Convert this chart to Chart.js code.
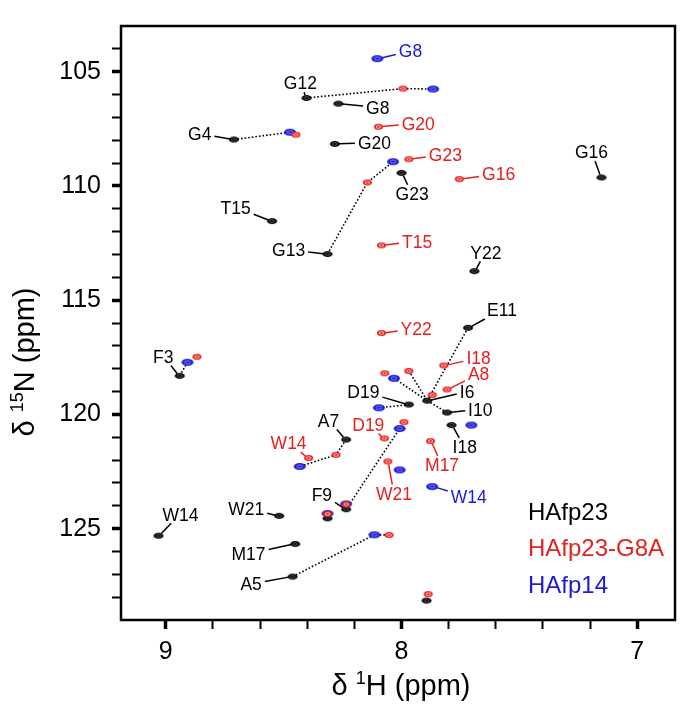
<!DOCTYPE html>
<html>
<head>
<meta charset="utf-8">
<script src="https://cdn.jsdelivr.net/npm/chart.js@4.4.1/dist/chart.umd.min.js"></script>
<style>
  html, body { margin: 0; padding: 0; background: #fff; }
  #wrap { width: 680px; height: 704px; }
</style>
</head>
<body>
<div id="wrap"><canvas id="hsqc"></canvas></div>
<script>
// Axis ticks (ppm)
const xTicks = [7.0, 7.2, 7.4, 7.6, 7.8, 8.0, 8.2, 8.4, 8.6, 8.8, 9.0];
const yTicks = [104, 105, 106, 107, 108, 109, 110, 111, 112, 113, 114, 115, 116,
                117, 118, 119, 120, 121, 122, 123, 124, 125, 126, 127, 128];

const seriesNames = ['HAfp23', 'HAfp23-G8A', 'HAfp14'];
const seriesColors = ['#000000', '#e3211f', '#1c1cd2'];

// HAfp23 peaks (1H, 15N) and label anchors
const blackNames = ['G12', 'G8', 'G4', 'G20', 'G23', 'G16', 'T15', 'G13', 'Y22', 'E11', 'F3',
                    'I6', 'D19', 'I10', 'I18', 'A7', 'F9', 'W21', 'W14', 'M17', 'A5', '', ''];
const blackH = [8.403, 8.268, 8.711, 8.283, 8.000, 7.152, 8.549, 8.314, 7.691, 7.718, 8.941,
                7.891, 7.969, 7.807, 7.788, 8.235, 8.235, 8.519, 9.031, 8.451, 8.462, 8.314, 7.894];
const blackN = [106.15, 106.40, 107.97, 108.16, 109.43, 109.63, 111.54, 112.98, 113.73, 116.21, 118.31,
                119.40, 119.57, 119.92, 120.47, 121.10, 124.15, 124.44, 125.31, 125.67, 127.10, 124.55, 128.15];
const blackLabelH = [8.429, 8.101, 8.856, 8.115, 7.955, 7.194, 8.704, 8.479, 7.642, 7.574, 9.011,
                     7.722, 8.162, 7.666, 7.732, 8.310, 8.338, 8.659, 8.938, 8.649, 8.638, null, null];
const blackLabelN = [105.50, 106.56, 107.72, 108.11, 110.34, 108.52, 110.95, 112.81, 112.91, 115.43, 117.47,
                     119.01, 119.01, 119.78, 121.42, 120.27, 123.50, 124.13, 124.37, 126.09, 127.42, null, null];

// HAfp23-G8A peaks
const redNames = ['', 'G20', '', 'G23', 'G16', '', 'T15', 'Y22', '', 'I18', '', '', 'A8', '',
                  '', 'D19', 'M17', '', 'W14', 'W21', '', '', '', ''];
const redH = [7.994, 8.098, 8.448, 7.969, 7.755, 8.145, 8.085, 8.085, 8.868, 7.821, 7.969, 8.071, 7.807, 7.870,
              7.990, 8.073, 7.877, 8.278, 8.394, 8.058, 8.235, 8.314, 8.053, 7.887];
const redN = [105.74, 107.41, 107.76, 108.83, 109.70, 109.85, 112.60, 116.44, 117.48, 117.86, 118.10, 118.20, 118.91, 119.15,
              120.34, 121.05, 121.17, 121.77, 121.91, 122.06, 123.94, 124.36, 125.28, 127.87];
const redLabelH = [null, 7.929, null, 7.814, 7.588, null, 7.934, 7.938, null, 7.673, null, null, 7.673, null,
                   null, 8.141, 7.828, null, 8.479, 8.032, null, null, null, null];
const redLabelN = [null, 107.26, null, 108.63, 109.48, null, 112.42, 116.25, null, 117.54, null, null, 118.24, null,
                   null, 120.44, 122.21, null, 121.26, 123.47, null, null, null, null];

// HAfp14 peaks
const blueNames = ['G8', '', '', '', '', '', '', '', '', '', '', 'W14', '', '', ''];
const blueH = [8.103, 7.866, 8.473, 8.036, 8.908, 8.032, 8.096, 8.008, 7.704, 8.432, 8.008, 7.870, 8.235, 8.314, 8.115];
const blueN = [104.43, 105.76, 107.65, 108.94, 117.72, 118.42, 119.71, 120.62, 120.47, 122.28, 122.43, 123.16, 123.92, 124.34, 125.27];
const blueLabelH = [7.962, null, null, null, null, null, null, null, null, null, null, 7.715, null, null, null];
const blueLabelN = [104.10, null, null, null, null, null, null, null, null, null, null, 123.61, null, null, null];

// Dotted connections between peaks: [series, index]
const links = [
    [['k', 0], ['r', 0], ['b', 1]],
    [['k', 2], ['b', 2]],
    [['k', 7], ['r', 5], ['b', 3]],
    [['k', 10], ['b', 4]],
    [['k', 9], ['k', 11]],
    [['r', 10], ['k', 11]],
    [['b', 5], ['k', 11]],
    [['k', 11], ['k', 13]],
    [['b', 6], ['k', 12]],
    [['k', 15], ['r', 17], ['b', 9]],
    [['k', 16], ['b', 7]],
    [['k', 20], ['b', 14], ['r', 22]]
];

const series = {
    k: { names: blackNames, h: blackH, n: blackN, lh: blackLabelH, ln: blackLabelN, color: seriesColors[0] },
    r: { names: redNames, h: redH, n: redN, lh: redLabelH, ln: redLabelN, color: seriesColors[1] },
    b: { names: blueNames, h: blueH, n: blueN, lh: blueLabelH, ln: blueLabelN, color: seriesColors[2] }
};

const FONT = '"Liberation Sans", Arial, Helvetica, sans-serif';

// Elliptical peak marker, drawn once and used as pointStyle
function peakImage(w, h, fill, ring) {
    const c = document.createElement('canvas');
    c.width = w + 2;
    c.height = h + 2;
    const g = c.getContext('2d');
    g.beginPath();
    g.ellipse(c.width / 2, c.height / 2, w / 2, h / 2, 0, 0, Math.PI * 2);
    g.fillStyle = fill;
    g.fill();
    if (ring) {
        g.beginPath();
        g.ellipse(c.width / 2, c.height / 2, w / 4, h / 4.5, 0, 0, Math.PI * 2);
        g.strokeStyle = ring;
        g.lineWidth = 1;
        g.stroke();
    }
    return c;
}

const points = key => series[key].h.map((v, i) => ({ x: v, y: series[key].n[i] }));

const linkSets = links.map(chain => ({
    type: 'scatter',
    data: chain.map(([key, i]) => ({ x: series[key].h[i], y: series[key].n[i] })),
    showLine: true,
    borderColor: '#000',
    borderWidth: 1.6,
    borderDash: [1.6, 2],
    pointRadius: 0
}));

// Labels, leader lines, frame, titles and legend
const annotate = {
    id: 'annotate',
    afterDatasetsDraw(chart) {
        const { ctx, chartArea: a, scales: { x, y } } = chart;
        ctx.save();
        ctx.font = '17.5px ' + FONT;
        ctx.textAlign = 'center';
        ctx.textBaseline = 'alphabetic';
        Object.values(series).forEach(s => {
            s.names.forEach((name, i) => {
                if (!name) return;
                const px = x.getPixelForValue(s.h[i]), py = y.getPixelForValue(s.n[i]);
                const lx = x.getPixelForValue(s.lh[i]), ly = y.getPixelForValue(s.ln[i]);
                const hw = ctx.measureText(name).width / 2 + 3, hh = 9;
                const dx = px - lx, dy = py - ly;
                const t = Math.min(dx ? hw / Math.abs(dx) : Infinity, dy ? hh / Math.abs(dy) : Infinity);
                const len = Math.hypot(dx, dy);
                if (t < 1 && len > 12) {
                    ctx.beginPath();
                    ctx.moveTo(lx + dx * t, ly + dy * t);
                    ctx.lineTo(px - dx / len * 4, py - dy / len * 3);
                    ctx.strokeStyle = s.color;
                    ctx.lineWidth = 1.5;
                    ctx.stroke();
                }
                ctx.fillStyle = s.color;
                ctx.fillText(name, lx, ly + 6.3);
            });
        });

        // legend
        ctx.font = '24px ' + FONT;
        ctx.textAlign = 'left';
        seriesNames.forEach((name, i) => {
            ctx.fillStyle = seriesColors[i];
            ctx.fillText(name, 528, 520 + i * 36.4);
        });

        // frame
        ctx.strokeStyle = '#000';
        ctx.lineWidth = 2.5;
        ctx.strokeRect(a.left, a.top, a.right - a.left, a.bottom - a.top);

        // axis titles
        ctx.fillStyle = '#000';
        const big = '29px ' + FONT, small = '18px ' + FONT;
        const drawTitle = (parts, cx, cy) => {
            let total = 0;
            parts.forEach(p => { ctx.font = p.sup ? small : big; total += ctx.measureText(p.t).width; });
            let cur = cx - total / 2;
            parts.forEach(p => {
                ctx.font = p.sup ? small : big;
                ctx.fillText(p.t, cur, cy - (p.sup ? 11 : 0));
                cur += ctx.measureText(p.t).width;
            });
        };
        drawTitle([{ t: 'δ ' }, { t: '1', sup: true }, { t: 'H (ppm)' }], 401, 695);
        ctx.translate(34, 362);
        ctx.rotate(-Math.PI / 2);
        drawTitle([{ t: 'δ ' }, { t: '15', sup: true }, { t: 'N (ppm)' }], 0, 0);
        ctx.restore();
    }
};

const tickFont = { family: FONT, size: 25 };

new Chart(document.getElementById('hsqc'), {
    type: 'scatter',
    data: {
        datasets: [
            { label: seriesNames[1], data: points('r'), pointStyle: peakImage(9, 6, seriesColors[1], 'rgba(255,200,200,0.9)') },
            { label: seriesNames[2], data: points('b'), pointStyle: peakImage(12, 7, seriesColors[2], 'rgba(140,140,255,0.9)') },
            { label: seriesNames[0], data: points('k'), pointStyle: peakImage(10, 6, seriesColors[0], 'rgba(90,90,90,0.9)') },
            ...linkSets
        ]
    },
    options: {
        responsive: true,
        maintainAspectRatio: false,
        animation: false,
        layout: { padding: { left: 0, right: 3, top: 3, bottom: 0 } },
        plugins: {
            legend: { display: false },
            tooltip: { enabled: false }
        },
        scales: {
            x: {
                type: 'linear',
                reverse: true,
                min: 6.84,
                max: 9.19,
                afterBuildTicks: s => { s.ticks = xTicks.map(v => ({ value: v })); },
                afterFit: s => { s.height = 84; },
                border: { display: false },
                grid: {
                    drawOnChartArea: false,
                    tickLength: 9,
                    tickColor: '#000',
                    tickWidth: c => (Math.abs(c.tick.value - Math.round(c.tick.value)) < 1e-6 ? 3.5 : 2)
                },
                ticks: {
                    autoSkip: false,
                    maxRotation: 0,
                    padding: 8,
                    color: '#000',
                    font: tickFont,
                    callback: v => (Math.abs(v - Math.round(v)) < 1e-6 ? String(Math.round(v)) : '')
                }
            },
            y: {
                type: 'linear',
                reverse: true,
                min: 103,
                max: 129,
                afterBuildTicks: s => { s.ticks = yTicks.map(v => ({ value: v })); },
                afterFit: s => { s.width = 121; },
                border: { display: false },
                grid: {
                    drawOnChartArea: false,
                    tickLength: 9,
                    tickColor: '#000',
                    tickWidth: c => (c.tick.value % 5 === 0 ? 3.5 : 2)
                },
                ticks: {
                    autoSkip: false,
                    padding: 11,
                    color: '#000',
                    font: tickFont,
                    callback: v => (v % 5 === 0 ? String(v) : '')
                }
            }
        }
    },
    plugins: [annotate]
});
</script>
</body>
</html>
